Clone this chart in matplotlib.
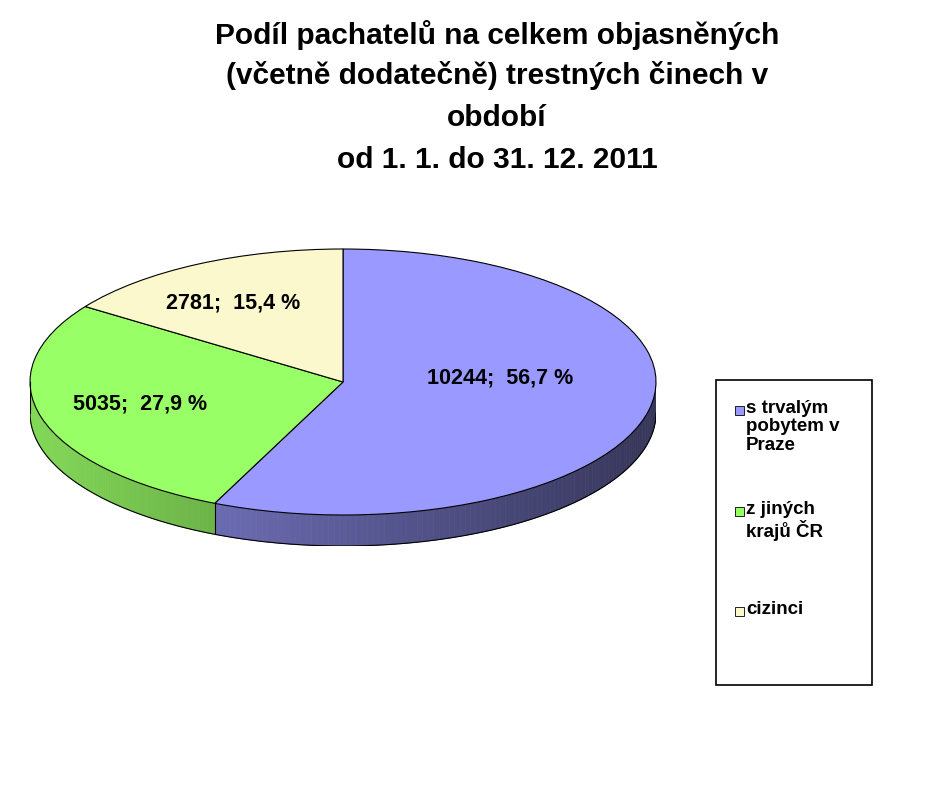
import numpy as np
import matplotlib
matplotlib.use("Agg")
import matplotlib.pyplot as plt
from matplotlib.patches import Polygon, Rectangle
import matplotlib.colors as mc

plt.rcParams['font.family'] = ['Liberation Sans', 'DejaVu Sans']

categories = ["s trvalým\npobytem v\nPraze", "z jiných\nkrajů ČR", "cizinci"]
values = [10244, 5035, 2781]
pct_labels = ["10244;  56,7 %", "5035;  27,9 %", "2781;  15,4 %"]
colors = ["#9999FF", "#99FF66", "#FAF8CC"]

W, H = 940, 791
fig = plt.figure(figsize=(9.4, 7.91), dpi=100)

def fx(px): return px / W
def fy(py): return 1 - py / H

x0, x1, ytop, ybot = 30, 656, 249, 546
ry = 133.0
depth = (ybot - ytop - 2 * ry) / ry
ax = fig.add_axes([fx(x0), fy(ybot), (x1 - x0) / W, (ybot - ytop) / H])
ax.axis("off")

total = sum(values)
angles = [90.0]
for v in values:
    angles.append(angles[-1] - 360.0 * v / total)
for i, col in enumerate(colors):
    a0, a1 = angles[i], angles[i + 1]
    ts = np.linspace(a0, a1, 200)
    base = np.array(mc.to_rgb(col))
    for j in range(len(ts) - 1):
        ta, tb = np.radians(ts[j]), np.radians(ts[j + 1])
        if np.sin(ta) > 0 and np.sin(tb) > 0:
            continue
        c = (np.cos(ta) + 1) / 2
        shade = 0.85 - 0.5 * c
        fc = np.clip(base * shade, 0, 1)
        pts = [(np.cos(ta), np.sin(ta)), (np.cos(tb), np.sin(tb)),
               (np.cos(tb), np.sin(tb) - depth), (np.cos(ta), np.sin(ta) - depth)]
        ax.add_patch(Polygon(pts, closed=True, facecolor=fc, edgecolor=fc, lw=0.5))
tt = np.radians(np.linspace(180, 360, 200))
ax.plot(np.cos(tt), np.sin(tt) - depth, color="black", lw=0.8)
ax.plot([-1, -1], [0, -depth], color="black", lw=0.8)
ax.plot([1, 1], [0, -depth], color="black", lw=0.8)
for a in angles:
    r = np.radians(a)
    if np.sin(r) < 0:
        ax.plot([np.cos(r)] * 2, [np.sin(r), np.sin(r) - depth], color="black", lw=0.8)

ax.pie(values, colors=colors, startangle=90, counterclock=False, radius=1,
       wedgeprops=dict(edgecolor="black", linewidth=0.8))
ax.set_aspect("auto")
ax.set_xlim(-1, 1)
ax.set_ylim(-1 - depth, 1)

lab_pos = [(500, 378), (140, 404), (233, 303)]
for (px, py), t in zip(lab_pos, pct_labels):
    fig.text(fx(px), fy(py), t, ha="center", va="center", fontsize=15.5, fontweight="bold")

title_lines = ["Podíl pachatelů na celkem objasněných",
               "(včetně dodatečně) trestných činech v", "období",
               "od 1. 1. do 31. 12. 2011"]
for t, py in zip(title_lines, [35, 76, 118, 160]):
    fig.text(fx(497), fy(py), t, ha="center", va="center", fontsize=21.5, fontweight="bold")

fig.patches.append(Rectangle((fx(716), fy(685)), (872 - 716) / W, (685 - 380) / H,
                             transform=fig.transFigure, facecolor="white",
                             edgecolor="black", lw=1.2))
for t, col, py in zip(categories, colors, [410, 511, 611]):
    fig.patches.append(Rectangle((fx(735), fy(py + 5)), 9 / W, 9 / H,
                                 transform=fig.transFigure, facecolor=col,
                                 edgecolor="black", lw=0.6))
    fig.text(fx(746), fy(py - 10), t, ha="left", va="top", fontsize=13.5,
             fontweight="bold", linespacing=1.1)

fig.savefig("out.png", dpi=100)
